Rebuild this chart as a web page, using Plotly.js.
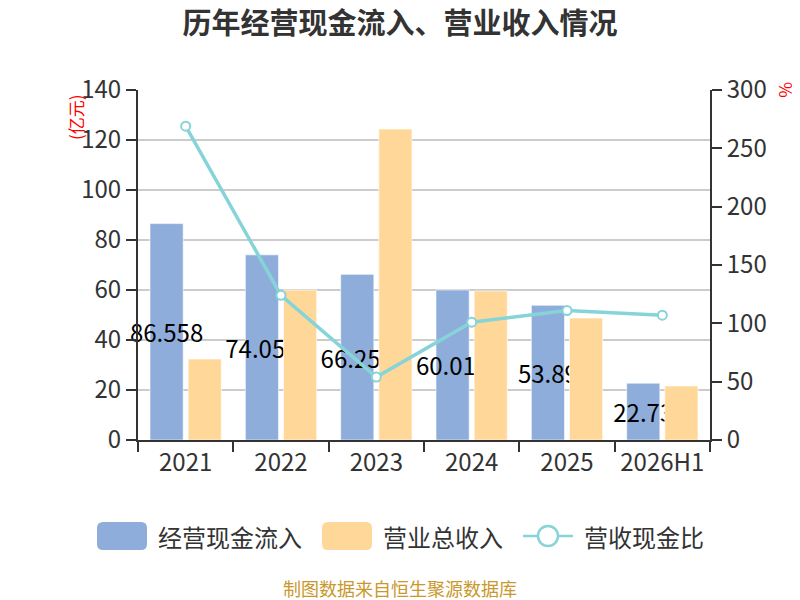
<!DOCTYPE html>
<html lang="zh">
  <head>
    <meta charset="utf-8">
    <title>历年经营现金流入、营业收入情况</title>
    <script src="https://cdn.plot.ly/plotly-3.0.1.min.js" charset="utf-8"></script>
    <style>
      body { margin: 0; }
      #plot { width: 800px; height: 600px; }
    </style>
  </head>
  <body>
    <div id="plot"></div>
    <script type="text/javascript">
      const FONT = '"Noto Sans CJK SC", "Noto Sans", sans-serif';

      // data
      const years = ['2021', '2022', '2023', '2024', '2025', '2026H1'];
      const cashIn = [86.558, 74.059, 66.254, 60.012, 53.891, 22.731];
      const revenue = [32.4, 60.0, 124.4, 59.6, 48.8, 21.6];
      const ratio = [269, 124, 54, 101, 111, 107];
      const cashInLabels = ['86.558', '74.059', '66.254', '60.012', '53.89', '22.73'];

      const BLUE = '#8eaddb';
      const ORANGE = '#ffd899';
      const TEAL = '#86d4d8';

      // plot area in px: x 138..710, y 90..440
      const L = 138, R = 710, T = 90, B = 440;
      const px = x => (x - L) / (R - L);
      const py = y => (B - y) / (B - T);

      function roundRect(x0, y0, x1, y1, r) {
        let rx = r / (R - L), ry = r / (B - T);
        let a = px(x0), b = px(x1), top = py(y0), bot = py(y1);
        return 'M' + (a + rx) + ',' + top +
          ' L' + (b - rx) + ',' + top + ' Q' + b + ',' + top + ' ' + b + ',' + (top - ry) +
          ' L' + b + ',' + (bot + ry) + ' Q' + b + ',' + bot + ' ' + (b - rx) + ',' + bot +
          ' L' + (a + rx) + ',' + bot + ' Q' + a + ',' + bot + ' ' + a + ',' + (bot + ry) +
          ' L' + a + ',' + (top - ry) + ' Q' + a + ',' + top + ' ' + (a + rx) + ',' + top + ' Z';
      }

      let traces = [
        {
          x: years,
          y: cashIn,
          type: 'bar',
          name: '经营现金流入',
          marker: {color: BLUE, line: {color: 'rgba(255,255,255,0.6)', width: 1}},
          text: cashInLabels,
          textposition: 'inside',
          insidetextanchor: 'middle',
          constraintext: 'none',
          textangle: 0,
          textfont: {size: 24, color: '#000', family: FONT},
          cliponaxis: false,
          hoverinfo: 'none'
        },
        {
          x: years,
          y: revenue,
          type: 'bar',
          name: '营业总收入',
          marker: {color: ORANGE, line: {color: 'rgba(255,255,255,0.6)', width: 1}},
          hoverinfo: 'none'
        },
        {
          x: years,
          y: ratio,
          yaxis: 'y2',
          type: 'scatter',
          mode: 'lines+markers',
          name: '营收现金比',
          line: {color: TEAL, width: 3.5},
          marker: {symbol: 'circle', size: 9, color: '#fff', line: {color: TEAL, width: 2}},
          hoverinfo: 'none'
        }
      ];

      let layout = {
        width: 800,
        height: 600,
        margin: {l: L, r: 800 - R, t: T, b: 600 - B},
        paper_bgcolor: '#fff',
        plot_bgcolor: '#fff',
        font: {family: FONT, color: '#333', size: 24},
        showlegend: false,
        barmode: 'group',
        bargap: 0.2,
        bargroupgap: 0.13,
        title: {
          text: '<b>历年经营现金流入、营业收入情况</b>',
          font: {size: 29, color: '#333', family: FONT},
          x: 0.5, xanchor: 'center',
          y: 1 - 24 / 600, yanchor: 'middle'
        },
        xaxis: {
          type: 'category',
          showline: true, linecolor: '#333', linewidth: 2,
          ticks: 'outside', tickson: 'boundaries', ticklen: 10, tickwidth: 2, tickcolor: '#333',
          tickfont: {size: 24, color: '#333'},
          showgrid: false
        },
        yaxis: {
          range: [0, 140], dtick: 20,
          showline: true, linecolor: '#333', linewidth: 2,
          ticks: 'outside', ticklen: 10, tickwidth: 2, tickcolor: '#333',
          tickfont: {size: 24, color: '#333'},
          gridcolor: '#cccccc', gridwidth: 2,
          zeroline: false
        },
        yaxis2: {
          overlaying: 'y', side: 'right',
          range: [0, 300], dtick: 50,
          showline: true, linecolor: '#333', linewidth: 2,
          ticks: 'outside', ticklen: 10, tickwidth: 2, tickcolor: '#333',
          tickfont: {size: 24, color: '#333'},
          showgrid: false, zeroline: false
        },
        shapes: [
          {type: 'path', xref: 'paper', yref: 'paper', path: roundRect(97, 522, 147, 550, 6),
            fillcolor: BLUE, line: {width: 0}},
          {type: 'path', xref: 'paper', yref: 'paper', path: roundRect(322, 522, 372, 550, 6),
            fillcolor: ORANGE, line: {width: 0}},
          {type: 'line', xref: 'paper', yref: 'paper', x0: px(523), x1: px(573), y0: py(536), y1: py(536),
            line: {color: TEAL, width: 2.5}},
          {type: 'circle', xref: 'paper', yref: 'paper', x0: px(538), x1: px(558), y0: py(526), y1: py(546),
            fillcolor: '#fff', line: {color: TEAL, width: 2.5}}
        ],
        annotations: [
          {text: '经营现金流入', xref: 'paper', yref: 'paper', x: px(156), y: py(536),
            xanchor: 'left', yanchor: 'middle', showarrow: false, font: {size: 24, color: '#333'}},
          {text: '营业总收入', xref: 'paper', yref: 'paper', x: px(381), y: py(536),
            xanchor: 'left', yanchor: 'middle', showarrow: false, font: {size: 24, color: '#333'}},
          {text: '营收现金比', xref: 'paper', yref: 'paper', x: px(582), y: py(536),
            xanchor: 'left', yanchor: 'middle', showarrow: false, font: {size: 24, color: '#333'}},
          {text: '(亿元)', xref: 'paper', yref: 'paper', x: px(75), y: py(117),
            xanchor: 'center', yanchor: 'middle', textangle: -90, showarrow: false,
            font: {size: 17, color: '#ff0000'}},
          {text: '%', xref: 'paper', yref: 'paper', x: px(787), y: py(90),
            xanchor: 'center', yanchor: 'middle', textangle: 90, showarrow: false,
            font: {size: 17, color: '#ff0000'}},
          // footer is centred on the page, not on the plot area
          {text: '制图数据来自恒生聚源数据库', xref: 'paper', yref: 'paper', x: px(400), y: py(588),
            xanchor: 'center', yanchor: 'middle', showarrow: false,
            font: {size: 18, color: '#c9982d'}}
        ]
      };

      Plotly.newPlot(document.getElementById('plot'), traces, layout, {displayModeBar: false, staticPlot: true});
    </script>
  </body>
</html>
